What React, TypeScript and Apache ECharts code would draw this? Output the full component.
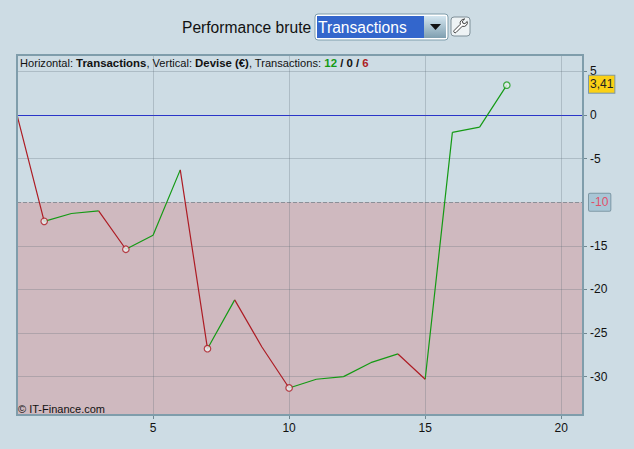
import React, { useEffect, useRef } from "react";
import * as echarts from "echarts";

const equity = [0, -12.2, -11.3, -11, -15.4, -13.8, -6.3, -26.8, -21.2, -26.6, -31.3, -30.3, -30, -28.4, -27.4, -30.3, -2, -1.4, 3.41];
const markerIndexes = [1, 4, 7, 10, 18];
const xTicks = [5, 10, 15, 20];
const yTicks = [5, 0, -5, -15, -20, -25, -30];
const yGrid = [5, 0, -5, -10, -15, -20, -25, -30];
const threshold = -10;
const lastLabel = "3,41";

const GREEN = "#149a14";
const RED = "#ad1c24";
const GRID = "rgba(90,105,115,0.27)";
const FONT = '"Liberation Sans", Arial, sans-serif';

function segments(rising: boolean) {
  const out: (number | null)[][] = [];
  for (let i = 1; i < equity.length; i++) {
    if (equity[i] > equity[i - 1] === rising) {
      out.push([i - 1, equity[i - 1]], [i, equity[i]], [i + 0.25, null]);
    }
  }
  return out;
}

const WRENCH = "M13.5 1.5a4.5 4.5 0 0 0-4.3 5.9L2 14.6a1.6 1.6 0 0 0 2.3 2.3l7.2-7.2a4.5 4.5 0 0 0 5.8-5.6l-2.7 2.6-2.4-.6-.6-2.4 2.7-2.6a4.5 4.5 0 0 0-.8 0z";

export default function App() {
  const ref = useRef<HTMLDivElement>(null);
  useEffect(() => {
    echarts.graphic.registerShape("wrenchIcon", echarts.graphic.extendPath(WRENCH, {}) as any);
    const chart = echarts.init(ref.current!, null, { renderer: "svg" });
    chart.setOption({
      animation: false,
      backgroundColor: "#cddce4",
      textStyle: { fontFamily: FONT },
      grid: { left: 17, right: 51, top: 55, bottom: 34, show: false },
      xAxis: {
        type: "value",
        min: 0,
        max: 20.8,
        axisLine: { show: true, onZero: false, lineStyle: { color: "rgba(0,0,0,0)" } },
        axisTick: { show: true, length: 4, customValues: xTicks, lineStyle: { color: "#6f8791" } },
        axisLabel: { customValues: xTicks, color: "#111", fontSize: 12, margin: 7, fontFamily: FONT },
        splitLine: { show: false },
      },
      yAxis: {
        type: "value",
        position: "right",
        min: -34.4,
        max: 6.87,
        axisLine: { show: true, onZero: false, lineStyle: { color: "rgba(0,0,0,0)" } },
        axisTick: { show: true, length: 4, customValues: yTicks, lineStyle: { color: "#6f8791" } },
        axisLabel: { customValues: yTicks, color: "#111", fontSize: 12, margin: 7, padding: [0, 0, 3, 0], fontFamily: FONT },
        splitLine: { show: false },
      },
      series: [
        {
          type: "line",
          name: "Gains",
          data: segments(true),
          showSymbol: false,
          connectNulls: false,
          clip: false,
          z: 5,
          lineStyle: { color: GREEN, width: 1.2 },
          itemStyle: { color: GREEN },
          markArea: {
            silent: true,
            itemStyle: { color: "#cfb9bf" },
            data: [[{ yAxis: threshold }, { yAxis: -34.4 }]],
            z: 1,
          },
          markLine: {
            silent: true,
            symbol: "none",
            animation: false,
            z: 2,
            data: [
              {
                yAxis: threshold,
                lineStyle: { color: "#8b8f97", type: [4, 2], width: 1 },
                label: {
                  show: true,
                  position: "end",
                  distance: 6,
                  formatter: "-10",
                  color: "#e0506a",
                  fontSize: 12,
                  fontFamily: FONT,
                  backgroundColor: "#a9c6d6",
                  borderColor: "#7e98a5",
                  borderWidth: 1,
                  borderRadius: 1,
                  padding: [3, 2, 2, 2],
                },
              },
              {
                yAxis: equity[equity.length - 1],
                lineStyle: { color: "rgba(0,0,0,0)" },
                label: {
                  show: true,
                  position: "end",
                  distance: 6,
                  offset: [0, -1],
                  formatter: lastLabel,
                  color: "#222",
                  fontSize: 12,
                  fontFamily: FONT,
                  backgroundColor: "#fbd116",
                  borderColor: "#7e98a5",
                  borderWidth: 1,
                  padding: [3, 1, 2, 1],
                },
              },
            ],
          },
        },
        {
          type: "line",
          name: "Pertes",
          data: segments(false),
          showSymbol: false,
          connectNulls: false,
          clip: false,
          z: 5,
          lineStyle: { color: RED, width: 1.2 },
          itemStyle: { color: RED },
        },
        {
          type: "line",
          name: "Grille",
          data: [],
          markLine: {
            silent: true,
            symbol: "none",
            animation: false,
            z: 3,
            label: { show: false },
            data: [
              ...yGrid.filter((v) => v !== threshold).map((v) => ({
                yAxis: v,
                lineStyle: v === 0 ? { color: "#2a35c8", width: 1, type: "solid" } : { color: GRID, width: 1, type: "solid" },
              })),
              ...xTicks.map((v) => ({ xAxis: v, lineStyle: { color: GRID, width: 1, type: "solid" } })),
            ],
          },
        },
        {
          type: "scatter",
          name: "Points",
          z: 6,
          clip: false,
          symbol: "circle",
          symbolSize: 6.5,
          data: markerIndexes.map((i) => ({
            value: [i, equity[i]],
            itemStyle: {
              color: "#e8eeee",
              borderWidth: 1.2,
              borderColor: i === 18 ? GREEN : RED,
            },
          })),
        },
      ],
      graphic: [
        {
          type: "rect",
          z: 20,
          silent: true,
          shape: { x: 17, y: 55, width: 566, height: 360 },
          style: { fill: "none", stroke: "#7f9dab", lineWidth: 2 },
        },
        {
          type: "text",
          z: 21,
          x: 20,
          y: 57,
          style: {
            text: "{n|Horizontal: }{b|Transactions}{n|, Vertical: }{b|Devise (€)}{n|, Transactions: }{g|12}{b| / 0 / }{r|6}",
            rich: {
              n: { fontSize: 11.1, fontFamily: FONT, fill: "#111", color: "#111" },
              b: { fontSize: 11.4, fontFamily: FONT, fontWeight: "bold", fill: "#111", color: "#111" },
              g: { fontSize: 11.4, fontFamily: FONT, fontWeight: "bold", fill: GREEN, color: GREEN },
              r: { fontSize: 11.4, fontFamily: FONT, fontWeight: "bold", fill: RED, color: RED },
            },
          },
        },
        {
          type: "text",
          z: 21,
          x: 18,
          y: 403,
          style: { text: "© IT-Finance.com", fontSize: 11, fontFamily: FONT, fill: "#111" },
        },
        {
          type: "text",
          z: 21,
          x: 182,
          y: 19,
          style: { text: "Performance brute", fontSize: 15.6, fontFamily: FONT, fill: "#111" },
        },
        {
          type: "rect",
          z: 21,
          shape: { x: 315, y: 14, width: 133, height: 26, r: 3 },
          style: { fill: "#ffffff", stroke: "#7f9dab", lineWidth: 1 },
        },
        {
          type: "rect",
          z: 22,
          shape: { x: 317, y: 16, width: 107, height: 22 },
          style: { fill: "#3366cc" },
        },
        {
          type: "rect",
          z: 22,
          shape: { x: 424, y: 16, width: 22, height: 22 },
          style: {
            fill: new echarts.graphic.LinearGradient(0, 0, 0, 1, [
              { offset: 0, color: "#d4e6f0" },
              { offset: 1, color: "#7f9fb0" },
            ]),
          },
        },
        {
          type: "polygon",
          z: 23,
          shape: { points: [[430, 24], [441, 24], [435.5, 30]] },
          style: { fill: "#111" },
        },
        {
          type: "text",
          z: 23,
          x: 318,
          y: 19,
          style: { text: "Transactions", fontSize: 15.6, fontFamily: FONT, fill: "#ffffff" },
        },
        {
          type: "rect",
          z: 21,
          shape: { x: 451, y: 17, width: 19, height: 19, r: 3 },
          style: { fill: "#eef3f5", stroke: "#7f8f98", lineWidth: 1 },
        },
        {
          type: "wrenchIcon",
          z: 22,
          x: 452.5,
          y: 18,
          scaleX: 0.85,
          scaleY: 0.85,
          style: { fill: "#ffffff", stroke: "#222", lineWidth: 1 },
        },
      ],
    });
    return () => chart.dispose();
  }, []);
  return <div ref={ref} style={{ position: "absolute", left: 0, top: 0, width: 634, height: 449 }} />;
}
